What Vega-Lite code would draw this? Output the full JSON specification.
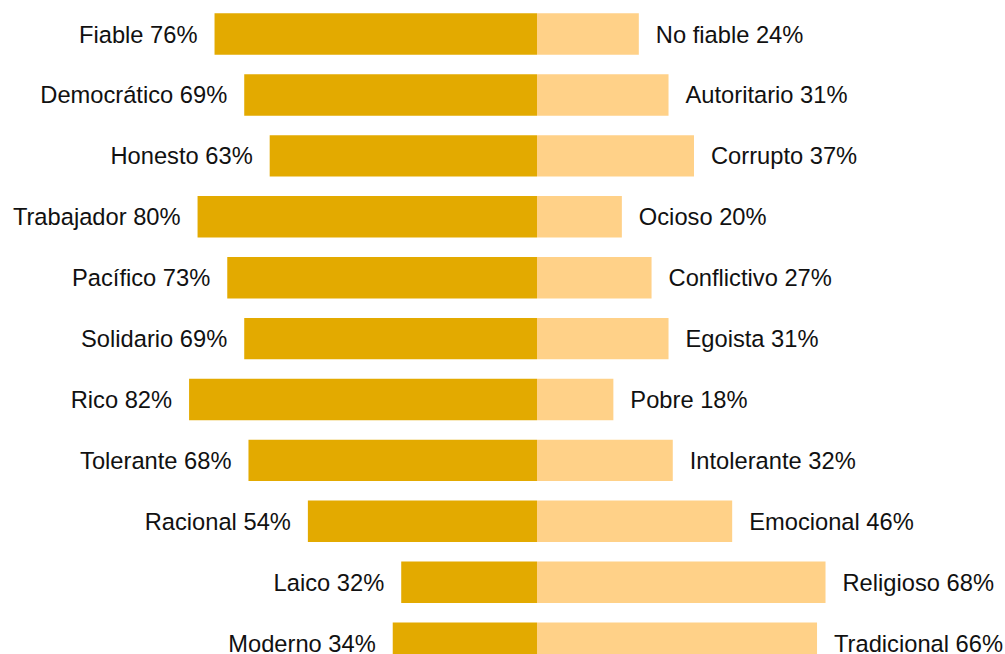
{
  "$schema": "https://vega.github.io/schema/vega-lite/v6.json",
  "width": 1005,
  "height": 670,
  "autosize": {"type": "none"},
  "padding": {"left": 0, "right": 0, "top": 3.6, "bottom": 0},
  "background": "white",
  "config": {"view": {"stroke": null}, "text": {"font": "Liberation Sans", "fontSize": 23.7, "color": "#111111"}},
  "data": {
    "values": [
      {"pair": 1, "side": "left", "label": "Fiable 76%", "pct": 76},
      {"pair": 2, "side": "left", "label": "Democrático 69%", "pct": 69},
      {"pair": 3, "side": "left", "label": "Honesto 63%", "pct": 63},
      {"pair": 4, "side": "left", "label": "Trabajador 80%", "pct": 80},
      {"pair": 5, "side": "left", "label": "Pacífico 73%", "pct": 73},
      {"pair": 6, "side": "left", "label": "Solidario 69%", "pct": 69},
      {"pair": 7, "side": "left", "label": "Rico 82%", "pct": 82},
      {"pair": 8, "side": "left", "label": "Tolerante 68%", "pct": 68},
      {"pair": 9, "side": "left", "label": "Racional 54%", "pct": 54},
      {"pair": 10, "side": "left", "label": "Laico 32%", "pct": 32},
      {"pair": 11, "side": "left", "label": "Moderno 34%", "pct": 34},
      {"pair": 1, "side": "right", "label": "No fiable 24%", "pct": 24},
      {"pair": 2, "side": "right", "label": "Autoritario 31%", "pct": 31},
      {"pair": 3, "side": "right", "label": "Corrupto 37%", "pct": 37},
      {"pair": 4, "side": "right", "label": "Ocioso 20%", "pct": 20},
      {"pair": 5, "side": "right", "label": "Conflictivo 27%", "pct": 27},
      {"pair": 6, "side": "right", "label": "Egoista 31%", "pct": 31},
      {"pair": 7, "side": "right", "label": "Pobre 18%", "pct": 18},
      {"pair": 8, "side": "right", "label": "Intolerante 32%", "pct": 32},
      {"pair": 9, "side": "right", "label": "Emocional 46%", "pct": 46},
      {"pair": 10, "side": "right", "label": "Religioso 68%", "pct": 68},
      {"pair": 11, "side": "right", "label": "Tradicional 66%", "pct": 66}
    ]
  },
  "encoding": {
    "y": {"field": "pair", "type": "ordinal", "sort": "ascending", "axis": null,
          "scale": {"paddingInner": 0.32, "paddingOuter": 0.16}}
  },
  "layer": [
    {
      "transform": [{"filter": "datum.side == 'left'"}],
      "mark": {"type": "bar", "color": "#E3AA00"},
      "encoding": {
        "x": {"field": "pct", "type": "quantitative", "axis": null,
              "scale": {"domain": [-110.3, 126.56], "reverse": true, "nice": false, "zero": false}}
      }
    },
    {
      "transform": [{"filter": "datum.side == 'left'"}],
      "mark": {"type": "text", "align": "right", "baseline": "middle", "dx": -17, "dy": 1.5},
      "encoding": {
        "x": {"field": "pct", "type": "quantitative", "axis": null,
              "scale": {"domain": [-110.3, 126.56], "reverse": true, "nice": false, "zero": false}},
        "text": {"field": "label"}
      }
    },
    {
      "transform": [{"filter": "datum.side == 'right'"}],
      "mark": {"type": "bar", "color": "#FFD188"},
      "encoding": {
        "x": {"field": "pct", "type": "quantitative", "axis": null,
              "scale": {"domain": [-126.56, 110.3], "nice": false, "zero": false}}
      }
    },
    {
      "transform": [{"filter": "datum.side == 'right'"}],
      "mark": {"type": "text", "align": "left", "baseline": "middle", "dx": 17, "dy": 1.5},
      "encoding": {
        "x": {"field": "pct", "type": "quantitative", "axis": null,
              "scale": {"domain": [-126.56, 110.3], "nice": false, "zero": false}},
        "text": {"field": "label"}
      }
    }
  ],
  "resolve": {"scale": {"x": "independent"}}
}
